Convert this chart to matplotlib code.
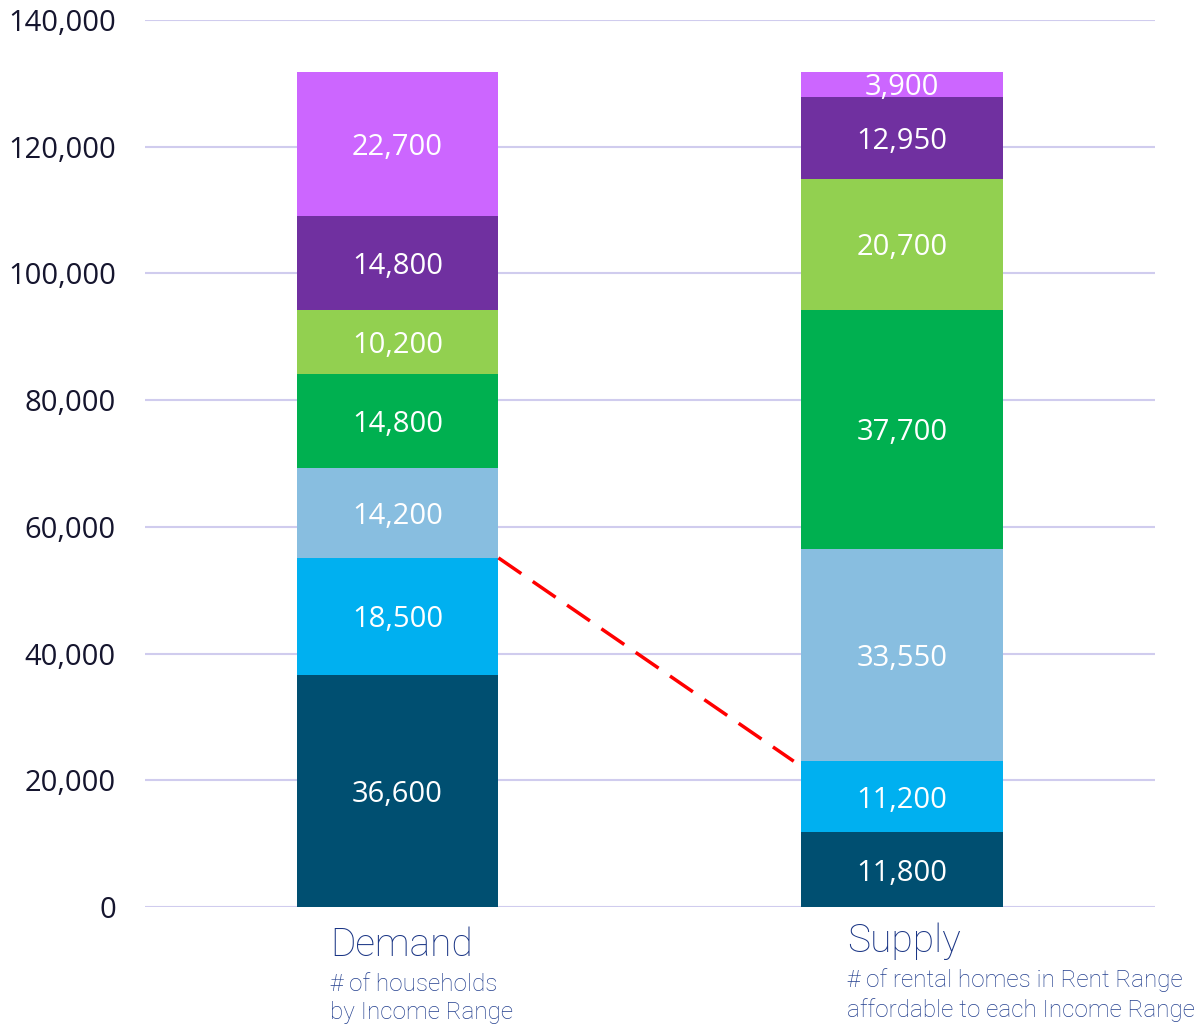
import matplotlib
matplotlib.use("Agg")
import matplotlib.pyplot as plt
import numpy as np

categories = ["Demand", "Supply"]
subtitles = ["# of households\nby Income Range",
             "# of rental homes in Rent Range\naffordable to each Income Range"]
demand = [36600, 18500, 14200, 14800, 10200, 14800, 22700]
supply = [11800, 11200, 33550, 37700, 20700, 12950, 3900]
colors = ["#004F71", "#00B0F0", "#88BEE0", "#00B050", "#92D050", "#7030A0", "#CC66FF"]
yticks = [0, 20000, 40000, 60000, 80000, 100000, 120000, 140000]

fig = plt.figure(figsize=(11.99, 10.29), dpi=100)
ax = fig.add_axes([0.121, 0.1186, 0.842, 0.862])

x = np.arange(len(categories))
width = 0.4
bottoms = np.zeros(2)
for i in range(len(demand)):
    vals = np.array([demand[i], supply[i]])
    ax.bar(x, vals, width, bottom=bottoms, color=colors[i], zorder=3)
    for xi, v, b in zip(x, vals, bottoms):
        ax.text(xi, b + v / 2, f"{v:,}", ha="center", va="center_baseline",
                color="white", fontsize=21, family="Open Sans", zorder=4)
    bottoms = bottoms + vals

# dashed connector between cumulative levels
d_level = demand[0] + demand[1]
s_level = supply[0] + supply[1]
ax.plot([x[0] + width / 2, x[1] - width / 2 - 0.015], [d_level, s_level],
        color="#FF0000", lw=2.5, dashes=(8, 4), zorder=5)

ax.set_xlim(-0.5, 1.5)
ax.set_ylim(0, 140000)
ax.set_yticks(yticks)
ax.set_yticklabels([f"{t:,}" for t in yticks], fontsize=21, family="Open Sans",
                   color="#15152E")
ax.tick_params(axis="y", length=0, pad=21)
ax.set_xticks([])
ax.grid(axis="y", color="#D0CCEE", lw=1.5, zorder=0)
ax.set_axisbelow(True)
for s in ax.spines.values():
    s.set_visible(False)

# category labels
offsets = [0.133, 0.109]
title_y = [-0.022, -0.017]
for xi, cat, sub, off, ty in zip(x, categories, subtitles, offsets, title_y):
    ax.text(xi - off, ty, cat, transform=ax.get_xaxis_transform(),
            ha="left", va="top", fontsize=28, family="Roboto", fontweight="light",
            color="#1A3585")
    ax.text(xi - off, ty - 0.052, sub, transform=ax.get_xaxis_transform(),
            ha="left", va="top", fontsize=17.5, family="Roboto", fontweight="light",
            color="#24408F", linespacing=1.3)

fig.savefig("out.png", dpi=100)
